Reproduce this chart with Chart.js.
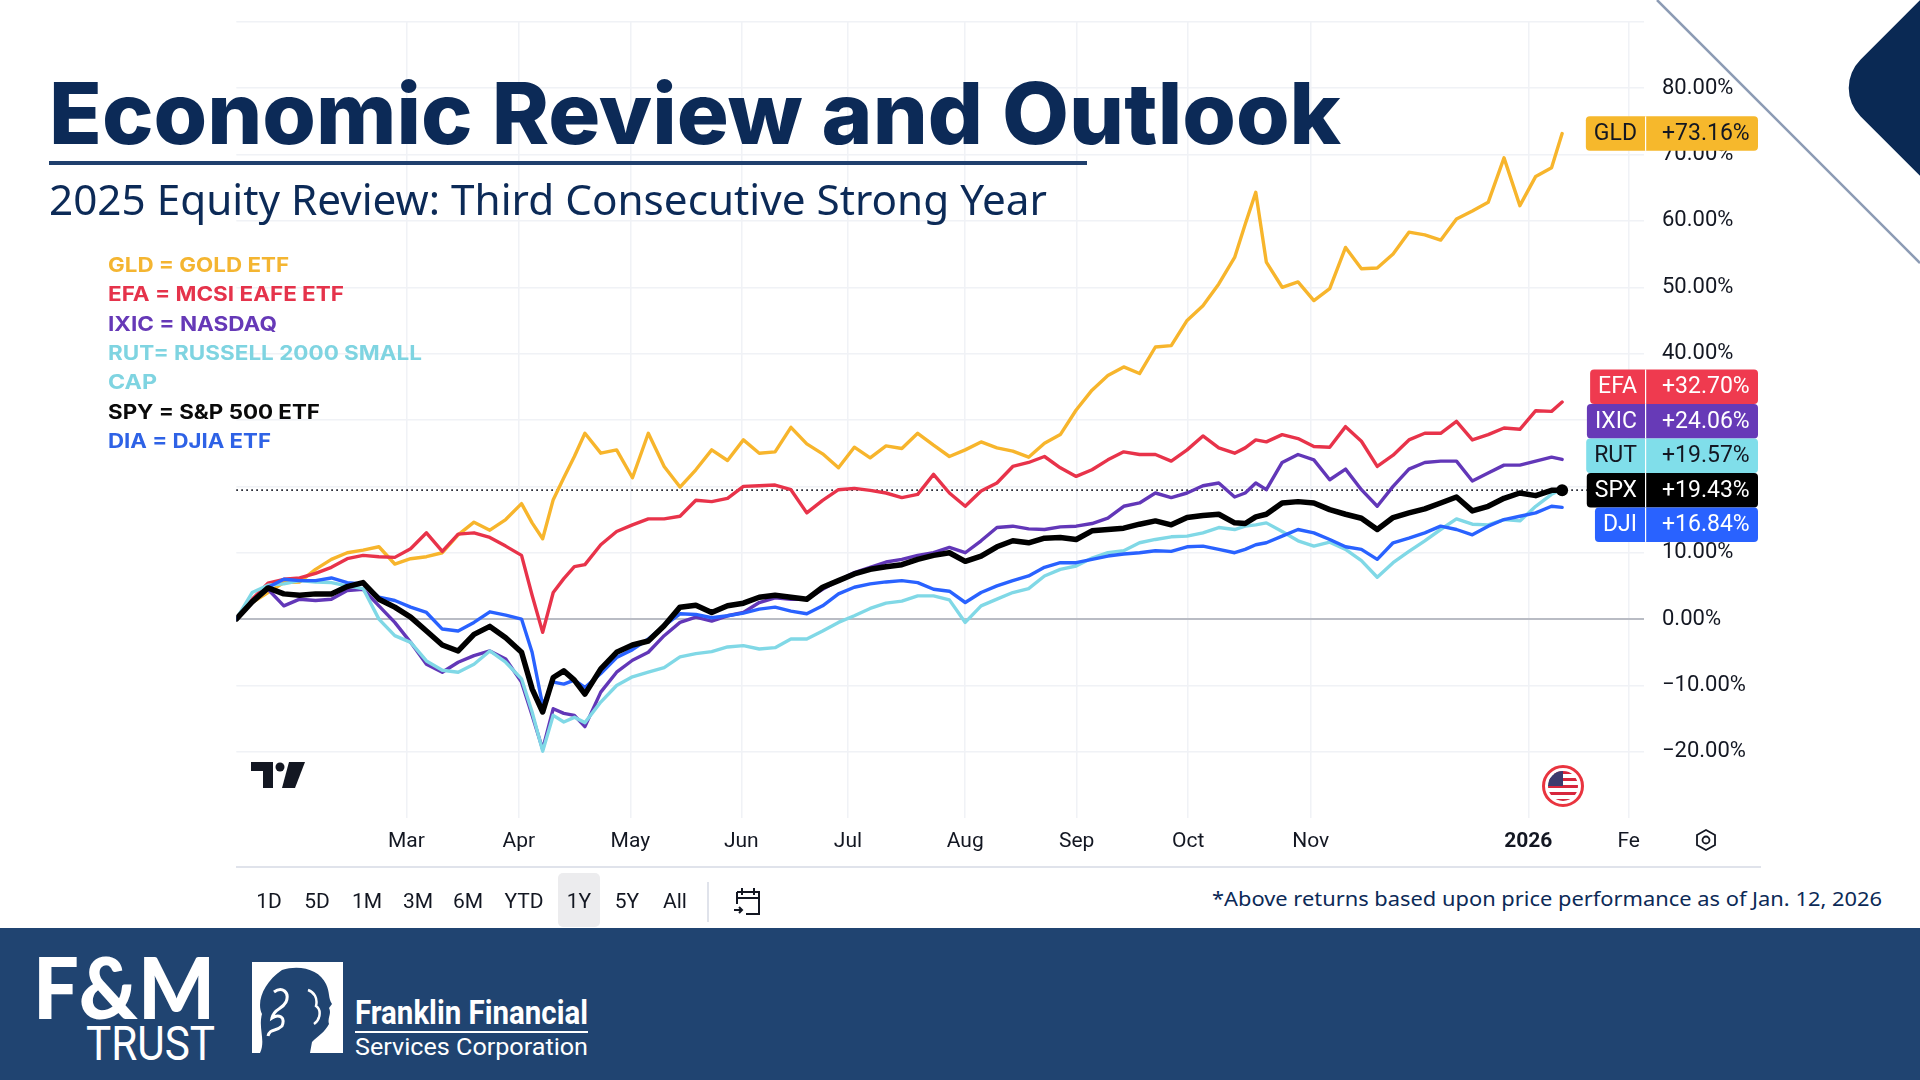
<!DOCTYPE html>
<html lang="en">
<head>
<meta charset="utf-8">
<title>2025 Equity Review</title>
<script src="https://cdn.jsdelivr.net/npm/chart.js@4.4.1/dist/chart.umd.min.js"></script>
<style>
  html, body { margin: 0; padding: 0; background: #ffffff; }
  body { position: relative; width: 1920px; height: 1080px; overflow: hidden; }
  .abs { position: absolute; white-space: nowrap; transform-origin: left top; }
  #chartBox { position: absolute; left: 0; top: 0; width: 1920px; height: 880px; }
  #title { left: 49px; top: 71px; font: 800 85px/85px Inter, sans-serif; color: #0c2a57; }
  #rule { left: 49px; top: 161px; width: 1038px; height: 4px; background: #1f3f6d; }
  #subtitle { left: 49px; top: 179px; font: 400 41px/41px 'Noto Sans', sans-serif; color: #0c2a57; }
  .key { left: 108px; font: 700 20px/29.4px Inter, sans-serif; }
  #note { left: 1212px; top: 888px; font: 400 20.5px/20.5px 'Noto Sans', sans-serif; color: #0c2a57; }
  .range { top: 891px; font: 400 21px/21px Roboto, sans-serif; color: #131722; transform: translateX(-50%); }
  #oneY { left: 558px; top: 873px; width: 42px; height: 54px; background: #ececee; border-radius: 5px; }
  #footer { left: 0; top: 928px; width: 1920px; height: 152px; background: #204471; }
  .white { color: #ffffff; }
</style>
</head>
<body>
<div id="chartBox"><canvas id="returnsChart"></canvas></div>

<!-- top right decoration -->
<svg class="abs" style="left:0;top:0" width="1920" height="300">
  <line x1="1657" y1="0" x2="1920" y2="263" stroke="#8c9bb4" stroke-width="2.5"/>
</svg>
<div class="abs" style="left:1886px;top:-42px;width:260px;height:260px;background:#0a2954;border-radius:40px;transform:rotate(45deg);transform-origin:center;"></div>

<div id="title" class="abs" data-w="1292">Economic Review and Outlook</div>
<div id="rule" class="abs"></div>
<div id="subtitle" class="abs" data-w="998">2025 Equity Review: Third Consecutive Strong Year</div>

<div class="abs key" style="top:250.8px;color:#f4b531" data-w="181">GLD = GOLD ETF</div>
<div class="abs key" style="top:280.2px;color:#e5334b" data-w="236">EFA = MCSI EAFE ETF</div>
<div class="abs key" style="top:309.6px;color:#6639b7" data-w="169">IXIC = NASDAQ</div>
<div class="abs key" style="top:339px;color:#7fd4e1" data-w="314">RUT= RUSSELL 2000 SMALL</div>
<div class="abs key" style="top:368.4px;color:#7fd4e1" data-w="49">CAP</div>
<div class="abs key" style="top:397.8px;color:#0a0a0a" data-w="212">SPY = S&amp;P 500 ETF</div>
<div class="abs key" style="top:427.2px;color:#2e62e6" data-w="163">DIA = DJIA ETF</div>

<!-- chart furniture -->
<svg class="abs" style="left:251px;top:762px" width="54" height="26" viewBox="0 0 54 26">
  <path d="M0 0 H22 V26 H12 V9 H0 Z" fill="#131722"/>
  <circle cx="29" cy="5" r="4.5" fill="#131722"/>
  <path d="M38 0 H54 L44 26 H31 Z" fill="#131722"/>
</svg>
<div class="abs" style="left:1542px;top:765px;width:42px;height:42px;border:3px solid #e9343f;border-radius:50%;background:#fff;box-sizing:border-box;padding:3px;">
  <div style="position:relative;width:30px;height:30px;border-radius:50%;overflow:hidden;background:repeating-linear-gradient(#d7263d 0 3.5px,#ffffff 3.5px 7px);">
    <div style="position:absolute;left:0;top:0;width:15px;height:15px;background:#3c3b6e"></div>
  </div>
</div>
<svg class="abs" style="left:1694px;top:828px" width="24" height="24" viewBox="0 0 24 24" fill="none" stroke="#131722" stroke-width="1.8">
  <path d="M12 2 L21 7 V17 L12 22 L3 17 V7 Z"/><circle cx="12" cy="12" r="3.5"/>
</svg>
<div class="abs" style="left:236px;top:866px;width:1525px;height:2px;background:#e0e3eb"></div>

<div id="oneY" class="abs"></div>
<div class="abs range" style="left:269px">1D</div>
<div class="abs range" style="left:317px">5D</div>
<div class="abs range" style="left:367px">1M</div>
<div class="abs range" style="left:418px">3M</div>
<div class="abs range" style="left:468px">6M</div>
<div class="abs range" style="left:524px">YTD</div>
<div class="abs range" style="left:579px">1Y</div>
<div class="abs range" style="left:627px">5Y</div>
<div class="abs range" style="left:675px">All</div>
<div class="abs" style="left:707px;top:882px;width:2px;height:40px;background:#e0e3eb"></div>
<svg class="abs" style="left:731px;top:884px" width="34" height="34" viewBox="0 0 34 34" fill="none" stroke="#131722" stroke-width="2">
  <path d="M6 8 H28 V30 H15"/><path d="M6 8 V20"/><path d="M6 14 H28"/>
  <path d="M11 4 V11 M23 4 V11"/><path d="M3 26 H11 M8 23 L11 26 L8 29"/>
</svg>

<div id="note" class="abs" data-w="670">*Above returns based upon price performance as of Jan. 12, 2026</div>

<!-- footer -->
<div id="footer" class="abs"></div>
<div class="abs white" style="left:33px;top:944px;font:900 85px/85px Lato, sans-serif;" data-w="182">F&amp;M</div>
<div class="abs white" style="left:86px;top:1020px;font:400 48px/48px Roboto, sans-serif;" data-w="129">TRUST</div>
<svg class="abs" style="left:252px;top:962px" width="91" height="91" viewBox="0 0 91 91">
  <rect width="91" height="91" fill="#ffffff"/>
  <path d="M30 8 C48 2 68 8 74 22 C78 30 76 36 80 42 L77 46 C80 52 75 56 77 62 C73 70 66 74 60 80 L58 91 L8 91 C14 78 6 66 10 52 C4 40 12 20 30 8 Z" fill="#204471"/>
  <path d="M22 30 C30 24 38 30 34 40 C30 48 22 46 20 56 C26 52 34 54 30 64 C24 70 18 66 16 74" stroke="#fff" stroke-width="3" fill="none"/>
  <path d="M56 28 C62 30 66 36 64 44 C70 48 68 58 62 62" stroke="#fff" stroke-width="2.5" fill="none"/>
</svg>
<div class="abs white" style="left:355px;top:995px;font:700 34px/34px 'Liberation Sans Narrow', Roboto, sans-serif;" data-w="233">Franklin Financial</div>
<div class="abs" style="left:355px;top:1031px;width:233px;height:1.5px;background:#ffffff"></div>
<div class="abs white" style="left:355px;top:1035px;font:400 24px/24px 'Liberation Sans Narrow', Roboto, sans-serif;" data-w="233">Services Corporation</div>

<script>
// trading-day index from the first bar (13 Jan 2025)
const days = [0, 3, 6, 9, 12, 15, 18, 21, 24, 27, 30, 33, 36, 39, 42, 45, 48, 51,
    54, 56, 58, 60, 62, 64, 66,
    69, 72, 75, 78, 81, 84, 87, 90, 93, 96, 99, 102, 105, 108, 111, 114, 117, 120,
    123, 126, 129, 132, 135, 138, 141, 144, 147, 150, 153, 156, 159, 162, 165, 168,
    171, 174, 177, 180, 183, 186,
    189, 191, 193, 195,
    198, 201, 204, 207, 210, 213, 216, 219, 222, 225, 228, 231, 234, 237, 240, 243, 246, 249,
    251];

// % change since start
const gld = [0, 2.5, 4.0, 5.5, 5.6, 7.5, 9.0, 10.0, 10.4, 10.9, 8.3, 9.1, 9.4, 10.0, 12.7, 14.6, 13.4, 15.0,
    17.4, 14.5, 12.1, 18.0, 21.3, 24.5, 28.0,
    25.0, 25.5, 21.3, 28.0, 23.0, 19.9, 22.5, 25.5, 23.9, 27.0, 25.0, 25.2, 28.9, 26.4, 24.9, 22.8, 25.9, 24.3,
    26.1, 25.7, 28.0, 26.2, 24.5, 25.5, 26.7, 25.8, 25.3, 24.4, 26.5, 27.8, 31.5, 34.5, 36.7, 38.0,
    37.0, 41.0, 41.2, 45.0, 47.2, 50.5,
    54.5, 59.5, 64.3, 53.8,
    50.0, 50.8, 48.0, 49.8, 56.0, 52.8, 52.9, 55.0, 58.3, 57.9, 57.1, 60.3, 61.5, 62.8, 69.5, 62.3, 66.7, 68.0,
    73.16];

const efa = [0, 3.0, 5.4, 6.0, 6.2, 6.9, 7.8, 9.1, 9.6, 9.4, 9.3, 10.6, 13.0, 10.2, 12.8, 13.0, 12.3, 11.0,
    9.6, 3.6, -2.0, 4.0, 6.1, 7.9, 8.2,
    11.2, 13.2, 14.2, 15.1, 15.1, 15.5, 17.9, 17.7, 18.2, 20.0, 20.1, 20.2, 19.5, 16.0, 17.9, 19.5, 19.7, 19.4,
    19.0, 18.3, 18.8, 21.8, 19.0, 17.0, 19.3, 20.5, 23.0, 23.6, 24.5, 22.8, 21.5, 22.5, 24.0, 25.2,
    24.8, 24.8, 23.8, 25.5, 27.6, 25.8,
    25.0, 25.8, 27.0, 26.7,
    27.8, 27.2, 26.0, 25.9, 29.0, 26.8, 23.0, 24.7, 27.0, 28.0, 28.0, 29.8, 27.0, 27.8, 28.8, 28.6, 31.4, 31.3,
    32.70];

const ixic = [0, 2.5, 4.5, 2.0, 3.0, 2.8, 3.0, 4.3, 4.5, 2.0, -0.5, -3.5, -6.8, -8.0, -6.5, -5.5, -4.8, -6.0,
    -9.5, -14.5, -19.6, -13.5, -14.2, -14.5, -16.2,
    -11.0, -8.0, -6.2, -5.0, -2.5, -0.5, 0.3, -0.3, 0.5, 1.0, 2.5, 3.2, 3.0, 3.0, 4.5, 5.8, 7.0, 7.8,
    8.6, 9.0, 9.6, 10.0, 10.8, 10.0, 11.8, 13.8, 14.0, 13.6, 13.5, 13.9, 14.0, 14.4, 15.2, 17.0,
    17.5, 19.0, 18.3, 19.0, 20.1, 20.5,
    18.4, 19.0, 20.5, 19.5,
    23.6, 24.8, 24.0, 21.0, 22.6, 19.5, 17.0, 20.0, 22.6, 23.6, 23.8, 23.8, 20.8, 22.0, 23.2, 23.2, 23.8, 24.4,
    24.06];

const rut = [0, 4.0, 5.1, 5.3, 5.8, 5.6, 5.5, 5.0, 4.6, 0.0, -2.5, -3.5, -6.3, -7.7, -8.0, -6.8, -4.8, -6.5,
    -9.0, -14.0, -19.9, -14.5, -15.5, -14.8, -15.6,
    -12.5, -10.0, -8.7, -8.0, -7.3, -5.7, -5.2, -4.9, -4.2, -4.0, -4.5, -4.3, -3.0, -3.0, -1.8, -0.5, 0.5, 1.6,
    2.4, 2.7, 3.5, 3.5, 2.9, -0.5, 2.0, 3.0, 4.0, 4.6, 6.5, 7.5, 8.0, 9.2, 10.0, 10.3,
    11.5, 12.0, 12.4, 12.5, 13.0, 13.8,
    13.5, 14.0, 14.2, 14.5,
    13.2, 11.8, 11.0, 11.6, 10.5, 8.8, 6.3, 8.5, 10.2, 11.8, 13.5, 15.1, 14.3, 14.2, 15.0, 14.8, 17.0, 18.8,
    19.57];

const spx = [0, 2.6, 4.7, 3.8, 3.6, 3.8, 3.8, 4.9, 5.5, 3.0, 1.8, 0.3, -1.8, -3.9, -4.8, -2.3, -1.1, -2.8,
    -5.0, -10.5, -14.0, -8.8, -7.8, -9.2, -11.3,
    -7.5, -5.0, -3.9, -3.3, -1.0, 1.8, 2.1, 1.0, 2.0, 2.4, 3.3, 3.6, 3.3, 3.0, 4.8, 5.8, 6.8, 7.5,
    7.9, 8.2, 9.0, 9.6, 10.0, 8.7, 9.5, 10.9, 11.8, 11.5, 12.2, 12.3, 12.0, 13.3, 13.5, 13.7,
    14.3, 14.8, 14.2, 15.3, 15.6, 15.8,
    14.5, 14.4, 15.4, 15.8,
    17.5, 17.7, 17.5, 16.5, 15.8, 15.2, 13.5, 15.3, 16.0, 16.6, 17.5, 18.4, 16.3, 17.0, 18.2, 19.0, 18.6, 19.4,
    19.43];

const dia = [0, 2.8, 4.8, 6.0, 5.8, 5.8, 6.2, 5.5, 5.3, 3.3, 2.8, 1.8, 1.0, -1.5, -1.8, -0.5, 1.1, 0.6,
    0.0, -5.0, -13.0, -9.5, -9.8, -9.2, -10.3,
    -8.2, -5.8, -4.6, -3.0, -1.0, 0.8, 0.7, 0.2, 0.5, 0.9, 1.5, 1.8, 1.2, 0.8, 2.0, 3.8, 4.8, 5.3,
    5.6, 5.8, 5.5, 4.5, 4.2, 2.5, 4.0, 5.0, 5.8, 6.5, 7.8, 8.5, 8.5, 9.0, 9.5, 9.8,
    10.0, 10.3, 10.2, 10.9, 11.0, 10.5,
    10.0, 10.5, 11.2, 11.5,
    12.5, 13.5, 13.0, 12.0, 10.9, 10.5, 9.0, 11.5, 12.2, 13.0, 14.0, 13.5, 12.7, 14.0, 15.0, 15.5, 16.0, 17.0,
    16.84];

// time axis labels and where they sit on the trading-day axis
const monthTicks = [32.2, 53.5, 74.6, 95.6, 115.8, 138.0, 159.1, 180.2, 203.4, 244.6, 263.6];
const monthLabels = ['Mar', 'Apr', 'May', 'Jun', 'Jul', 'Aug', 'Sep', 'Oct', 'Nov', '2026', 'Fe'];

function toPoints(values) {
    return days.map((d, i) => ({ x: d, y: values[i] }));
}

function fitText() {
    document.querySelectorAll('[data-w]').forEach(el => {
        const w = el.getBoundingClientRect().width;
        const target = parseFloat(el.dataset.w);
        el.style.transform = `scaleX(${(target / w).toFixed(4)})`;
    });
}

const priceTags = {
    id: 'priceTags',
    beforeDatasetsDraw(chart) {
        const { ctx, chartArea, scales } = chart;
        const ds = chart.data.datasets.find(d => d.tag === 'SPX');
        const y = scales.y.getPixelForValue(ds.data[ds.data.length - 1].y);
        ctx.save();
        ctx.strokeStyle = '#131722';
        ctx.lineWidth = 1.6;
        ctx.setLineDash([1.6, 3.4]);
        ctx.beginPath();
        ctx.moveTo(chartArea.left, y);
        ctx.lineTo(1588, y);
        ctx.stroke();
        ctx.restore();
    },
    afterDraw(chart) {
        const { ctx, scales } = chart;
        const h = 34.5;
        const split = 1645;
        const right = 1758;
        const items = chart.data.datasets.map(ds => ({ ds, v: ds.data[ds.data.length - 1].y }));
        items.sort((a, b) => b.v - a.v);
        items.forEach(it => { it.py = scales.y.getPixelForValue(it.v); });
        const anchor = items.findIndex(it => it.ds.tag === 'SPX');
        for (let i = anchor - 1; i >= 0; i--) items[i].py = Math.min(items[i].py, items[i + 1].py - h);
        for (let i = anchor + 1; i < items.length; i++) items[i].py = Math.max(items[i].py, items[i - 1].py + h);

        ctx.save();
        ctx.font = '23px Roboto';
        ctx.textBaseline = 'middle';
        items.forEach(it => {
            const tw = ctx.measureText(it.ds.tag).width;
            const left = split - tw - 16;
            const top = it.py - h / 2;
            ctx.fillStyle = it.ds.tagColor;
            ctx.beginPath();
            ctx.roundRect(left, top, right - left, h, 4);
            ctx.fill();
            ctx.fillStyle = '#ffffff';
            ctx.fillRect(split, top, 1.2, h);
            ctx.fillStyle = it.ds.tagText;
            ctx.textAlign = 'center';
            ctx.fillText(it.ds.tag, (left + split) / 2, it.py + 1);
            ctx.textAlign = 'left';
            ctx.fillText('+' + it.v.toFixed(2) + '%', 1662, it.py + 1);
        });
        ctx.restore();
    }
};

const lineSet = (label, tag, values, color, tagColor, tagText, width) => ({
    label,
    tag,
    tagColor,
    tagText,
    data: toPoints(values),
    borderColor: color,
    borderWidth: width,
    pointRadius: 0,
    tension: 0,
    borderJoinStyle: 'round',
    borderCapStyle: 'round'
});

const spxSet = lineSet('S&P 500', 'SPX', spx, '#000000', '#000000', '#ffffff', 5.5);
spxSet.pointRadius = ctx => (ctx.dataIndex === spx.length - 1 ? 6 : 0);
spxSet.pointBackgroundColor = '#000000';
spxSet.pointBorderWidth = 0;

const chartEl = document.getElementById('returnsChart');
const returnsChart = new Chart(chartEl.getContext('2d'), {
    type: 'line',
    data: {
        datasets: [
            spxSet,
            lineSet('DJIA', 'DJI', dia, '#2962ff', '#2962ff', '#ffffff', 3.4),
            lineSet('Russell 2000', 'RUT', rut, '#80d8e6', '#80deea', '#131722', 3.4),
            lineSet('Nasdaq', 'IXIC', ixic, '#6237b8', '#673ab7', '#ffffff', 3.4),
            lineSet('MSCI EAFE', 'EFA', efa, '#e8334a', '#ef3a4f', '#ffffff', 3.4),
            lineSet('Gold', 'GLD', gld, '#f7b52c', '#f6b82c', '#131722', 3.4)
        ]
    },
    options: {
        responsive: true,
        maintainAspectRatio: false,
        animation: false,
        events: [],
        layout: { padding: { left: 236.3, right: 156, top: 21.8, bottom: 21.8 } },
        plugins: { legend: { display: false }, tooltip: { enabled: false } },
        scales: {
            x: {
                type: 'linear',
                min: 0,
                max: 266.5,
                afterBuildTicks: scale => { scale.ticks = monthTicks.map(v => ({ value: v })); },
                afterFit: scale => { scale.height = 40; scale.paddingLeft = 0; scale.paddingRight = 0; },
                border: { display: false },
                grid: { color: '#f0f2f6', lineWidth: 1.5, drawTicks: false },
                ticks: {
                    padding: 11,
                    color: '#131722',
                    maxRotation: 0,
                    autoSkip: false,
                    font: ctx => ({ family: 'Roboto', size: 21, weight: ctx.tick && ctx.tick.value === 244.6 ? 'bold' : 'normal' }),
                    callback: (value, index) => monthLabels[index]
                }
            },
            y: {
                position: 'right',
                min: -30,
                max: 90,
                afterFit: scale => { scale.width = 120; scale.paddingTop = 0; scale.paddingBottom = 0; },
                border: { display: false },
                grid: {
                    drawTicks: false,
                    color: ctx => (ctx.tick.value === 0 ? '#b9bcc4' : (ctx.tick.value === -30 ? 'rgba(0,0,0,0)' : '#f0f2f6')),
                    lineWidth: ctx => (ctx.tick.value === 0 ? 2 : 1.5)
                },
                ticks: {
                    stepSize: 10,
                    padding: 18,
                    color: '#131722',
                    font: { family: 'Roboto', size: 22 },
                    callback: v => (v === 90 || v === -30) ? '' : (v < 0 ? '\u2212' : '') + Math.abs(v).toFixed(2) + '%'
                }
            }
        }
    },
    plugins: [priceTags]
});

if (document.fonts && document.fonts.ready) {
    document.fonts.ready.then(() => { fitText(); returnsChart.update(); });
} else {
    fitText();
}
</script>
</body>
</html>
